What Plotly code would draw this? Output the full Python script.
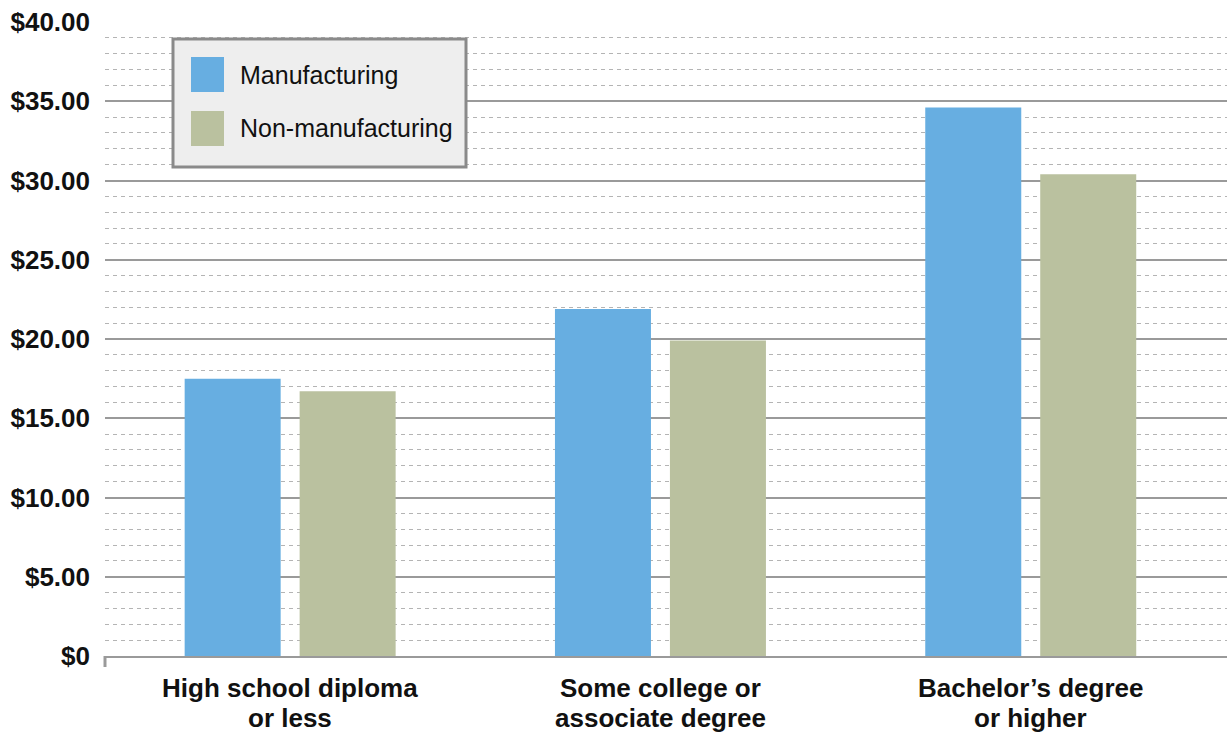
import plotly.graph_objects as go

# Average hourly wages by educational attainment
categories = ["High school diploma<br>or less",
              "Some college or<br>associate degree",
              "Bachelor’s degree<br>or higher"]
manufacturing = [17.5, 21.9, 34.6]
non_manufacturing = [16.7, 19.9, 30.4]

series_names = ["Manufacturing", "Non-manufacturing"]
series_colors = ["#67AEE1", "#BAC19F"]

y_tick_values = [0, 5, 10, 15, 20, 25, 30, 35, 40]
y_tick_labels = ["$0", "$5.00", "$10.00", "$15.00", "$20.00",
                 "$25.00", "$30.00", "$35.00", "$40.00"]

FONT = "Liberation Sans, Arial, Helvetica, sans-serif"
W, H = 1227, 732
M_L, M_R, M_T, M_B = 105, 0, 22, 76
PLOT_H = H - M_T - M_B
PLOT_W = W - M_L - M_R


def px_to_paper_y(py):
    """Convert a page pixel row into paper coordinates."""
    return (H - M_B - py) / PLOT_H


def px_to_paper_x(px):
    """Convert a page pixel column into paper coordinates."""
    return (px - M_L) / PLOT_W


fig = go.Figure()
for name, vals, col in zip(series_names, [manufacturing, non_manufacturing], series_colors):
    fig.add_trace(go.Bar(
        x=categories, y=vals, name=name,
        marker=dict(color=col, line=dict(width=0)),
        showlegend=False,
    ))

fig.update_layout(
    width=W, height=H,
    margin=dict(l=M_L, r=M_R, t=M_T, b=M_B, pad=0),
    paper_bgcolor="white",
    plot_bgcolor="white",
    barmode="group",
    bargap=0.379,
    bargroupgap=0.165,
    font=dict(family=FONT, color="#111111"),
)

fig.update_xaxes(
    range=[-0.5, 2.53],
    showticklabels=False,
    showgrid=False,
    showline=True, linecolor="#9A9A9A", linewidth=2,
    ticks="",
    fixedrange=True,
)

fig.update_yaxes(
    range=[0, 40],
    tickvals=y_tick_values,
    ticktext=y_tick_labels,
    tickfont=dict(family=FONT, size=26, color="#111111", weight="bold"),
    ticklabelstandoff=14,
    showgrid=True, gridcolor="#9A9A9A", gridwidth=2,
    minor=dict(dtick=1, showgrid=True, gridcolor="#B4B4B4",
               gridwidth=1, griddash="4px,4px"),
    zeroline=False,
    showline=False,
    ticks="",
    layer="below traces",
    fixedrange=True,
)

# Category labels, one annotation per text line
for cat in categories:
    lines = cat.split("<br>")
    for i, line in enumerate(lines):
        fig.add_annotation(
            x=cat, xref="x",
            y=px_to_paper_y(688 + i * 30), yref="paper",
            text=line, showarrow=False,
            xanchor="center", yanchor="middle",
            font=dict(family=FONT, size=26, color="#111111", weight="bold"),
        )

# Small tick at the left end of the baseline
fig.add_shape(type="line", xref="paper", yref="paper",
              x0=0, x1=0, y0=0, y1=px_to_paper_y(667),
              line=dict(color="#9A9A9A", width=3))

# Legend box with large swatches
fig.add_shape(type="rect", xref="paper", yref="paper",
              x0=px_to_paper_x(173), x1=px_to_paper_x(466),
              y0=px_to_paper_y(167), y1=px_to_paper_y(39),
              fillcolor="#EEEEEE", line=dict(color="#8A8A8A", width=3),
              layer="above")

swatch_rows = [(57, 92), (111, 146)]
for (top, bottom), name, col in zip(swatch_rows, series_names, series_colors):
    fig.add_shape(type="rect", xref="paper", yref="paper",
                  x0=px_to_paper_x(191), x1=px_to_paper_x(224),
                  y0=px_to_paper_y(bottom), y1=px_to_paper_y(top),
                  fillcolor=col, line=dict(width=0), layer="above")
    fig.add_annotation(
        x=px_to_paper_x(238), xref="paper",
        y=px_to_paper_y((top + bottom) / 2), yref="paper",
        text=name, showarrow=False,
        xanchor="left", yanchor="middle",
        font=dict(family=FONT, size=25, color="#111111"),
    )

fig.write_html("out.html")
